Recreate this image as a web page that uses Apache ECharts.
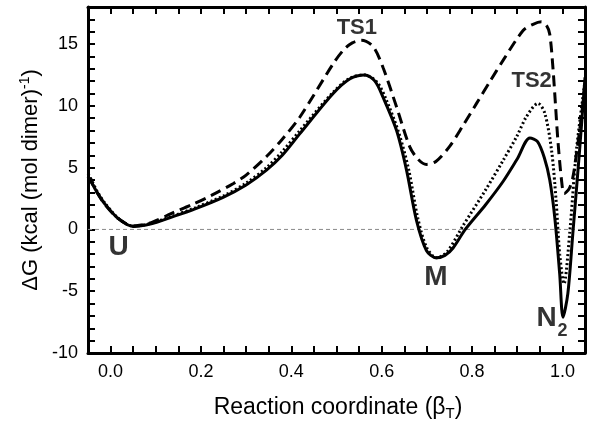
<!DOCTYPE html>
<html><head><meta charset="utf-8">
<script src="https://cdn.jsdelivr.net/npm/echarts@6/dist/echarts.min.js"></script>
<style>html,body{margin:0;padding:0;background:#fff}#c{width:600px;height:431px}</style>
</head><body><div id="c"></div>
<script>
// Solid curve
const xSolid = [-0.05,-0.045,-0.03,-0.013,0.017,0.05,0.09,0.135,0.187,0.249,0.30,0.345,0.38,0.419,0.4925,0.53,0.5626,0.585,0.603,0.633,0.655,0.677,0.699,0.721,0.74,0.758,0.785,0.83,0.869,0.9,0.928,0.945,0.96,0.972,0.983,0.994,1.0013,1.012,1.023,1.038,1.05];
const ySolid = [4.3,4.0,3.0,2.08,0.87,0.24,0.46,1.0,1.67,2.6,3.6,4.8,6.0,7.75,11.0,12.2,12.5,12.0,10.7,8.0,4.8,0.73,-1.7,-2.3,-2.1,-1.5,0.0,2.0,3.9,5.7,7.4,7.1,5.8,4.0,1.0,-3.6,-7.1,-5.2,-0.35,6.4,12.3];
// Dotted curve
const xDotted = [-0.05,-0.045,-0.03,-0.013,0.017,0.05,0.09,0.135,0.187,0.249,0.30,0.345,0.38,0.419,0.4925,0.53,0.5626,0.59,0.61,0.638,0.66,0.68,0.70,0.722,0.745,0.78,0.83,0.869,0.9,0.92,0.946,0.961,0.976,0.986,0.994,1.0035,1.016,1.031,1.05];
const yDotted = [4.5,4.2,3.1,2.15,0.9,0.26,0.5,1.05,1.75,2.7,3.75,5.0,6.3,8.0,11.1,12.25,12.5,11.9,10.5,7.8,4.8,0.9,-1.5,-2.3,-1.8,0.3,3.2,5.6,7.6,9.1,10.2,9.4,6.4,2.35,-2.0,-4.4,-0.35,6.4,12.0];
// Dashed curve
const xDashed = [-0.05,-0.045,-0.03,-0.013,0.017,0.05,0.09,0.135,0.18,0.223,0.271,0.30,0.345,0.38,0.419,0.4925,0.515,0.535,0.555,0.581,0.603,0.633,0.662,0.68,0.699,0.72,0.75,0.78,0.81,0.84,0.869,0.913,0.935,0.9535,0.965,0.972,0.979,0.985,0.99,0.998,1.004,1.015,1.023,1.031,1.042,1.05];
const yDashed = [4.3,4.0,3.0,2.05,0.88,0.28,0.55,1.3,2.0,2.75,3.7,4.4,5.9,7.3,9.1,13.4,14.5,15.1,15.3,14.8,13.1,9.9,6.7,5.7,5.26,5.5,6.7,8.4,10.2,12.0,13.7,16.1,16.6,16.8,16.5,15.8,13.1,9.9,7.2,4.0,2.9,3.3,4.2,6.1,9.1,11.8];
// Annotations
const annText = ['TS1','TS2','U','M','N','2'];
const annX = [0.545,0.932,0.018,0.72,0.965,1.0];
const annY = [16.3,12.0,-1.45,-3.85,-7.2,-8.2];
const annSize = [22,22,28,28,28,18];
// Axis ticks and labels
const xTickValues = [-0.05,0,0.05,0.1,0.15,0.2,0.25,0.3,0.35,0.4,0.45,0.5,0.55,0.6,0.65,0.7,0.75,0.8,0.85,0.9,0.95,1.0,1.05];
const xLabelValues = [0,0.2,0.4,0.6,0.8,1.0];
const yTickValues = [-10,-9,-8,-7,-6,-5,-4,-3,-2,-1,0,1,2,3,4,5,6,7,8,9,10,11,12,13,14,15,16,17,18];
const yLabelValues = [-10,-5,0,5,10,15];
const xTitle = '{a|Reaction coordinate (β}{b|T}{a|)}';
const yTitle = '{a|ΔG (kcal (mol dimer)}{b|-1}{a|)}';

const chart = echarts.init(document.getElementById('c'));
const pairs = (xs, ys) => xs.map((x, i) => [x, ys[i]]);
const FONT = 'Liberation Sans, Arial, sans-serif';

function axisBase(min, max, ticks) {
  return {type:'value', min:min, max:max,
    axisLine:{show:true, onZero:false, lineStyle:{color:'#000', width:3}},
    axisTick:{show:true, inside:true, length:7, customValues:ticks, lineStyle:{color:'#000', width:2}},
    splitLine:{show:false}};
}

const option = {
  animation:false,
  grid:{left:88, right:15, top:7, bottom:78},
  graphic:[
    {type:'text', x:338, y:408, silent:true,
      style:{text:xTitle, align:'center', verticalAlign:'middle', fill:'#000', rich:{
        a:{fontSize:23, fontFamily:FONT, fill:'#000', lineHeight:26},
        b:{fontSize:15, fontFamily:FONT, fill:'#000', lineHeight:26, verticalAlign:'bottom', padding:[8,0,0,0]}}}},
    {type:'text', x:31, y:180, rotation:Math.PI/2, silent:true,
      style:{text:yTitle, align:'center', verticalAlign:'middle', fill:'#000', rich:{
        a:{fontSize:22, fontFamily:FONT, fill:'#000', lineHeight:26},
        b:{fontSize:14, fontFamily:FONT, fill:'#000', lineHeight:26, verticalAlign:'top', padding:[0,0,8,0]}}}}
  ],
  xAxis:[
    Object.assign(axisBase(-0.05, 1.05, xTickValues), {position:'bottom',
      axisLabel:{show:true, customValues:xLabelValues, margin:10, color:'#000', fontSize:18, fontFamily:FONT,
        formatter:v => v.toFixed(1)}}),
    Object.assign(axisBase(-0.05, 1.05, xTickValues), {position:'top', axisLabel:{show:false}})
  ],
  yAxis:[
    Object.assign(axisBase(-10, 18, yTickValues), {position:'left',
      axisLabel:{show:true, customValues:yLabelValues, margin:10, color:'#000', fontSize:18, fontFamily:FONT,
        formatter:v => String(v)}}),
    Object.assign(axisBase(-10, 18, yTickValues), {position:'right', axisLabel:{show:false}})
  ],
  series:[
    {type:'line', data:[[-0.05,0],[1.05,0]], showSymbol:false, silent:true, z:1,
      lineStyle:{color:'#8a8a8a', width:1, type:[4,3]}},
    {type:'line', data:pairs(xDotted,yDotted), showSymbol:false, smooth:0.3, z:2,
      lineStyle:{color:'#000', width:3, type:[2,2.5]}},
    {type:'line', data:pairs(xSolid,ySolid), showSymbol:false, smooth:0.3, z:3,
      lineStyle:{color:'#000', width:3, type:'solid'}},
    {type:'line', data:pairs(xDashed,yDashed), showSymbol:false, smooth:0.3, z:3,
      lineStyle:{color:'#000', width:3, type:[11,6]}},
    {type:'scatter', symbolSize:0, z:5, silent:true,
      data:annText.map((t,i)=>({value:[annX[i],annY[i]], name:t,
        label:{show:true, position:'inside', formatter:t, color:'#000', fontWeight:'bold', fontFamily:FONT, fontSize:annSize[i]}}))}
  ]
};
chart.setOption(option);
</script>
</body></html>
